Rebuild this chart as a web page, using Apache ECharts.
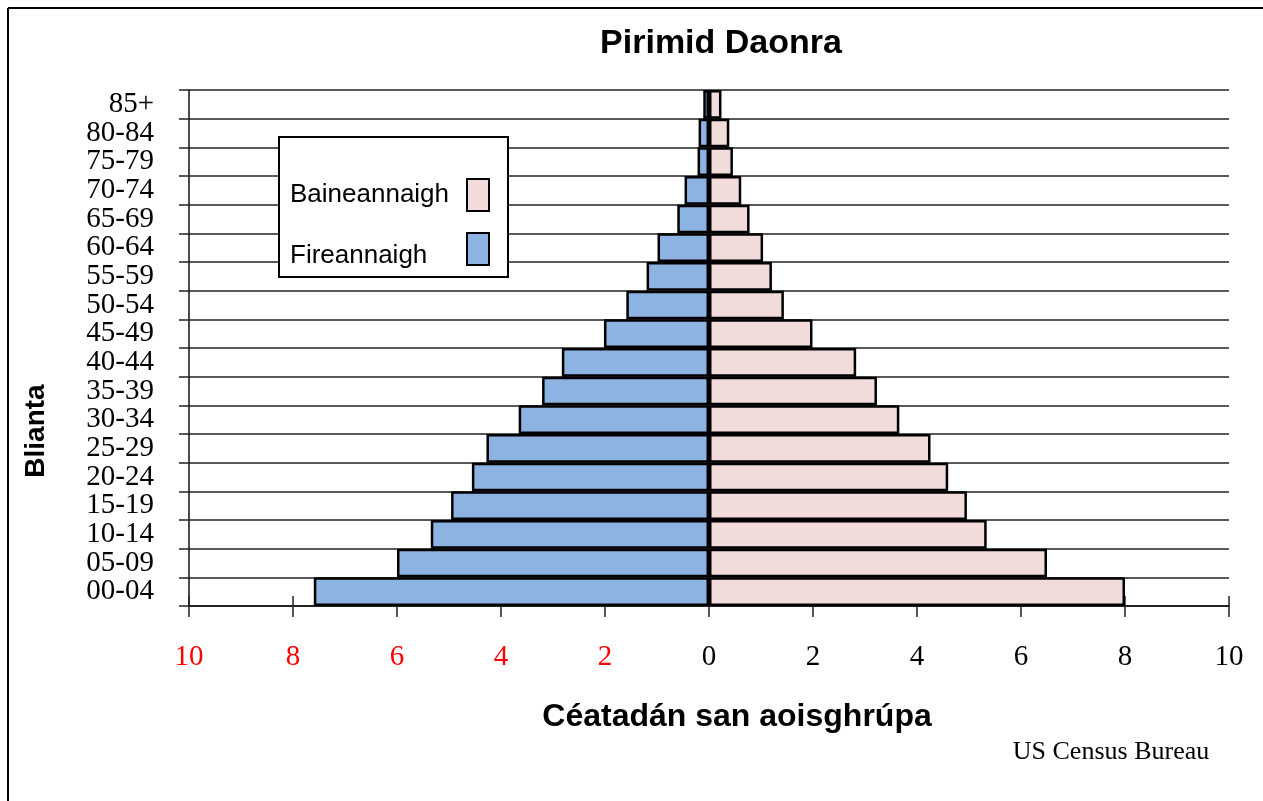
<!DOCTYPE html>
<html>
<head>
<meta charset="utf-8">
<script src="https://cdn.jsdelivr.net/npm/echarts@6/dist/echarts.min.js"></script>
<style>
html,body{margin:0;padding:0;background:#fff;}
#chart{width:1263px;height:801px;}
</style>
</head>
<body>
<div id="chart"></div>
<script>
// ---- data ----
const ageGroups = ['00-04','05-09','10-14','15-19','20-24','25-29','30-34','35-39','40-44','45-49','50-54','55-59','60-64','65-69','70-74','75-79','80-84','85+'];
const females = [8.0, 6.5, 5.34, 4.96, 4.6, 4.26, 3.66, 3.23, 2.83, 1.99, 1.44, 1.21, 1.04, 0.78, 0.62, 0.46, 0.39, 0.24];
const males   = [7.6, 6.0, 5.35, 4.96, 4.56, 4.28, 3.66, 3.21, 2.83, 2.02, 1.59, 1.2, 0.99, 0.61, 0.47, 0.22, 0.2, 0.11];
const xTicks = [-10, 10, 2]; // min, max, interval
const femaleName = 'Baineannaigh';
const maleName = 'Fireannaigh';
const titleText = 'Pirimid Daonra';
const xName = 'Céatadán san aoisghrúpa';
const yName = 'Blianta';
const sourceText = 'US Census Bureau';

const serif = '"Liberation Serif", "Times New Roman", serif';
const sans = '"Liberation Sans", Arial, sans-serif';

const chart = echarts.init(document.getElementById('chart'), null, {renderer: 'canvas'});
chart.setOption({
  backgroundColor: '#ffffff',
  animation: false,
  grid: {left: 189, right: 34, top: 90, bottom: 195, containLabel: false},
  legend: {
    show: true,
    orient: 'vertical',
    align: 'right',
    left: 290,
    top: 178,
    padding: 0,
    itemGap: 20,
    itemWidth: 22,
    itemHeight: 32,
    icon: 'rect',
    data: [femaleName, maleName],
    formatter: function (n) { return n === maleName ? '{m|' + n + '}' : '{t|' + n + '}'; },
    textStyle: {
      color: '#000',
      rich: {
        t: {width: 172, align: 'left', fontSize: 26, fontFamily: sans, color: '#000'},
        m: {width: 172, align: 'left', fontSize: 26, fontFamily: sans, color: '#000', padding: [14, 0, 0, 0]}
      }
    },
    z: 5
  },
  xAxis: [{
    type: 'value',
    min: xTicks[0], max: xTicks[1], interval: xTicks[2],
    position: 'bottom',
    axisLine: {show: true, onZero: false, lineStyle: {color: '#111', width: 1.5}},
    axisTick: {show: true, length: 11, lineStyle: {color: '#222', width: 1.5}},
    axisLabel: {
      margin: 37,
      fontSize: 29,
      fontFamily: serif,
      formatter: function (v) { return String(Math.abs(v)); },
      color: function (v) { return Number(v) < 0 ? '#ff0000' : '#000000'; }
    },
    splitLine: {show: false}
  }, {
    type: 'value',
    min: xTicks[0], max: xTicks[1], interval: xTicks[2],
    position: 'bottom',
    axisLine: {show: false, onZero: false},
    axisTick: {show: true, inside: true, length: 10, lineStyle: {color: '#222', width: 1.5}},
    axisLabel: {show: false},
    splitLine: {show: false}
  }],
  yAxis: {
    type: 'category',
    data: ageGroups,
    axisLine: {show: true, onZero: false, lineStyle: {color: '#111', width: 1.5}},
    axisTick: {show: true, interval: 0, length: 10, lineStyle: {color: '#222', width: 1.5}},
    axisLabel: {interval: 0, margin: 35, fontSize: 29, fontFamily: serif, color: '#000'},
    splitLine: {show: true, interval: 0, lineStyle: {color: '#222', width: 1.5}}
  },
  series: [{
    name: femaleName,
    type: 'bar',
    stack: 'pop',
    barCategoryGap: '0%',
    data: females,
    itemStyle: {color: '#f2dcdb', borderColor: '#000', borderWidth: 2.5},
    emphasis: {disabled: true}
  }, {
    name: maleName,
    type: 'bar',
    stack: 'pop',
    barCategoryGap: '0%',
    data: males.map(function (v) { return -v; }),
    itemStyle: {color: '#8db3e2', borderColor: '#000', borderWidth: 2.5},
    emphasis: {disabled: true}
  }],
  graphic: [
    {type: 'line', z: 10, shape: {x1: 8, y1: 8, x2: 1263, y2: 8}, style: {stroke: '#000', lineWidth: 2}},
    {type: 'line', z: 10, shape: {x1: 8, y1: 8, x2: 8, y2: 801}, style: {stroke: '#000', lineWidth: 2}},
    {type: 'rect', z: 3, shape: {x: 279, y: 137, width: 229, height: 140}, style: {fill: '#fff', stroke: '#000', lineWidth: 2}},
    {type: 'text', z: 10, x: 721, y: 44, style: {text: titleText, font: 'bold 34px ' + sans, fill: '#000', align: 'center', verticalAlign: 'middle'}},
    {type: 'text', z: 10, x: 737, y: 717, style: {text: xName, font: 'bold 32px ' + sans, fill: '#000', align: 'center', verticalAlign: 'middle'}},
    {type: 'text', z: 10, x: 36, y: 431, rotation: Math.PI / 2, style: {text: yName, font: 'bold 28px ' + sans, fill: '#000', align: 'center', verticalAlign: 'middle'}},
    {type: 'text', z: 10, x: 1111, y: 752, style: {text: sourceText, font: '26px ' + serif, fill: '#000', align: 'center', verticalAlign: 'middle'}}
  ]
});
</script>
</body>
</html>
